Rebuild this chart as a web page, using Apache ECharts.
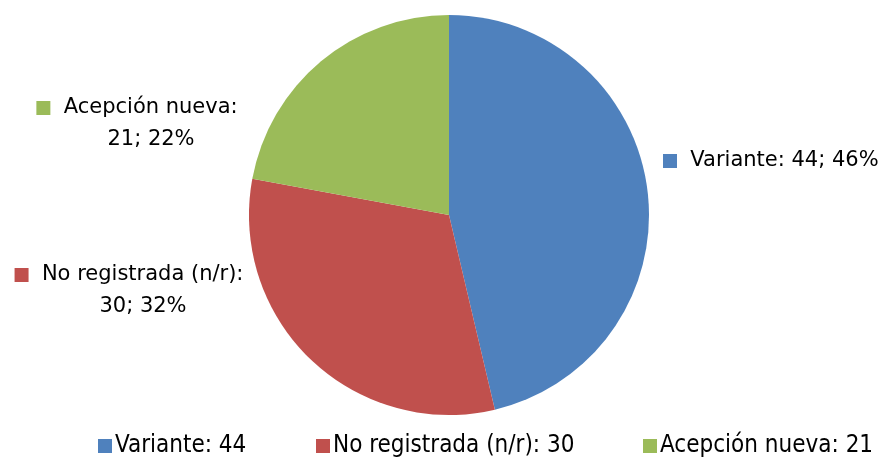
<!DOCTYPE html>
<html>
<head>
<meta charset="utf-8">
<script src="https://cdn.jsdelivr.net/npm/echarts@6/dist/echarts.min.js"></script>
<style>
  html, body { margin: 0; padding: 0; background: #fff; }
  #chart { width: 884px; height: 457px; }
</style>
</head>
<body>
<div id="chart"></div>
<script>
// data
const categories = ['Variante', 'No registrada (n/r)', 'Acepción nueva'];
const counts = [44, 30, 21];
const colors = ['#4F81BD', '#C0504D', '#9BBB59'];

// where each data label sits (label placement only)
const labelSpots = [
    { x: 663, y: 161, align: 'left', verticalAlign: 'middle' },
    { x: 129, y: 291, align: 'center', verticalAlign: 'middle' },
    { x: 137, y: 124, align: 'center', verticalAlign: 'middle' }
];
// left edge of each legend entry
const legendLefts = [98, 316, 643];

const chart = echarts.init(document.getElementById('chart'));

const labelFont = 'DejaVu Sans';

// one legend per entry so the spacing can follow the original
const legends = categories.map((c, i) => ({
    data: [c],
    left: legendLefts[i],
    top: 434,
    padding: 0,
    icon: 'rect',
    itemWidth: 14,
    itemHeight: 14,
    itemGap: 0,
    textStyle: { fontFamily: 'DejaVu Sans Condensed', fontSize: 24, color: '#000', padding: [0, 0, 0, -2] },
    formatter: name => name + ': ' + counts[categories.indexOf(name)]
}));

chart.setOption({
    animation: false,
    color: colors,
    legend: legends,
    series: [{
        type: 'pie',
        center: [449, 215],
        radius: 200,
        startAngle: 90,
        clockwise: true,
        percentPrecision: 0,
        data: categories.map((c, i) => ({ name: c, value: counts[i] })),
        labelLine: { show: false },
        label: {
            show: true,
            position: 'outside',
            overflow: 'none',
            color: '#000',
            fontFamily: labelFont,
            fontSize: 21,
            lineHeight: 32,
            formatter: p => {
                const sq = '{sq' + p.dataIndex + '|}';
                if (p.dataIndex === 0) {
                    return sq + '{t|  ' + p.name + ': ' + p.value + '; ' + p.percent + '%}';
                }
                return sq + '{t|  ' + p.name + ':}\n{sp|}{t|' + p.value + '; ' + p.percent + '%}';
            },
            rich: {
                t: { fontFamily: labelFont, fontSize: 21, color: '#000', lineHeight: 32 },
                sp: { width: 28, height: 14 },
                sq0: { width: 14, height: 14, backgroundColor: colors[0] },
                sq1: { width: 14, height: 14, backgroundColor: colors[1] },
                sq2: { width: 14, height: 14, backgroundColor: colors[2] }
            }
        },
        labelLayout: params => labelSpots[params.dataIndex]
    }]
});
</script>
</body>
</html>
